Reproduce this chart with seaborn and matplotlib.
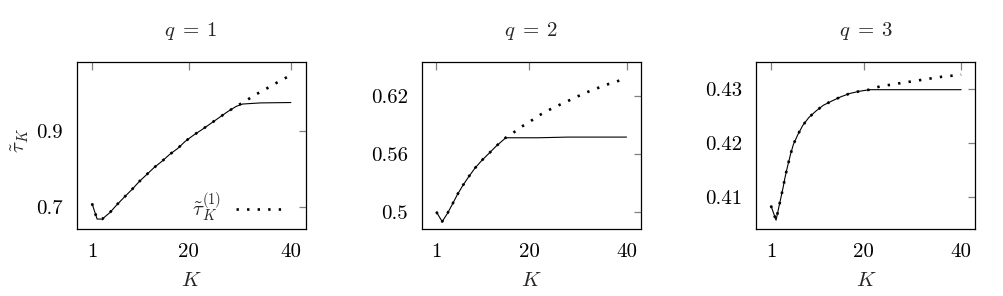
import matplotlib
matplotlib.use("Agg")
import matplotlib.pyplot as plt
import seaborn as sns

# ---------------- data ----------------
x_ticks = [1, 20, 40]
x_tick_labels = ["1", "20", "40"]
titles = [r"$q\;=\;1$", r"$q\;=\;2$", r"$q\;=\;3$"]

# q = 1
k_common_1 = [1, 2, 3, 4.5, 5.9, 7.35, 8.84, 10.2, 11.7, 13.2, 14.7, 16.2,
              17.8, 19.3, 20.9, 22.6, 24.2, 25.9, 27.6, 29.3]
t_common_1 = [0.709, 0.668, 0.668, 0.685, 0.706, 0.726, 0.746, 0.766, 0.785,
              0.804, 0.820, 0.838, 0.854, 0.873, 0.889, 0.904, 0.919, 0.935,
              0.951, 0.965]
k_solid_tail_1 = [30.5, 34, 40]
t_solid_tail_1 = [0.971, 0.974, 0.975]
k_dot_tail_1 = [31, 32.8, 34.6, 36.3, 38.1, 40]
t_dot_tail_1 = [0.978, 0.994, 1.007, 1.020, 1.034, 1.047]
y_ticks_1 = [0.7, 0.9]
y_tick_labels_1 = ["0.7", "0.9"]
y_lim_1 = (0.641, 1.081)

# q = 2
k_common_2 = [1, 2.2, 3.3, 4.3, 5.3, 6.4, 7.6, 8.9, 10.3, 11.8, 13.3, 14.9, 15.2]
t_common_2 = [0.500, 0.490, 0.4986, 0.508, 0.5177, 0.527, 0.536, 0.545, 0.553,
              0.5604, 0.568, 0.575, 0.5765]
k_solid_tail_2 = [22, 28, 40]
t_solid_tail_2 = [0.5765, 0.5772, 0.5772]
k_dot_tail_2 = [16.6, 18.3, 20.2, 22.0, 23.8, 25.8, 27.7, 29.6, 31.5, 33.5,
                35.5, 37.5, 39.4, 40]
t_dot_tail_2 = [0.581, 0.5874, 0.5932, 0.5994, 0.6045, 0.6094, 0.6138, 0.6183,
                0.6228, 0.6266, 0.6307, 0.6338, 0.637, 0.6385]
y_ticks_2 = [0.5, 0.56, 0.62]
y_tick_labels_2 = ["0.5", "0.56", "0.62"]
y_lim_2 = (0.482, 0.6544)

# q = 3
k_common_3 = [1, 2.05, 2.5, 3.05, 3.5, 3.9, 4.35, 5.0, 5.6, 6.5, 7.5, 8.75,
              10.2, 11.75, 13.5, 15.4, 17.2, 19.1, 21.2]
t_common_3 = [0.4083, 0.4056, 0.4075, 0.4098, 0.4117, 0.4136, 0.4154, 0.4178,
              0.4197, 0.4215, 0.4232, 0.4247, 0.4259, 0.4270, 0.4278, 0.4286,
              0.4292, 0.4296, 0.4299]
k_solid_tail_3 = [40]
t_solid_tail_3 = [0.4299]
k_dot_tail_3 = [23.3, 25.4, 27.4, 29.6, 31.7, 33.8, 36, 38.1, 40]
t_dot_tail_3 = [0.4305, 0.4308, 0.4311, 0.4314, 0.4317, 0.4320, 0.4323,
                0.4325, 0.4327]
y_ticks_3 = [0.41, 0.42, 0.43]
y_tick_labels_3 = ["0.41", "0.42", "0.43"]
y_lim_3 = (0.4039, 0.4350)

y_label = r"$\tilde{\tau}_K$"
legend_label = r"$\tilde{\tau}_K^{(1)}$"
x_label = "$K$"

# ---------------- style ----------------
sns.set_style("white")
plt.rcParams["font.family"] = ["cmr10", "DejaVu Serif"]
plt.rcParams["mathtext.fontset"] = "cm"
plt.rcParams["axes.unicode_minus"] = False
FS = 15
plt.rcParams["font.size"] = FS

fig = plt.figure(figsize=(10.04, 2.96), dpi=100)
positions = [
    [76.7 / 1004, 1 - 229.3 / 296, 229 / 1004, 167 / 296],
    [421.7 / 1004, 1 - 229.3 / 296, 219 / 1004, 167 / 296],
    [756.3 / 1004, 1 - 229.3 / 296, 219 / 1004, 167 / 296],
]

panels = [
    (k_common_1, t_common_1, k_solid_tail_1, t_solid_tail_1, k_dot_tail_1, t_dot_tail_1,
     y_ticks_1, y_tick_labels_1, y_lim_1),
    (k_common_2, t_common_2, k_solid_tail_2, t_solid_tail_2, k_dot_tail_2, t_dot_tail_2,
     y_ticks_2, y_tick_labels_2, y_lim_2),
    (k_common_3, t_common_3, k_solid_tail_3, t_solid_tail_3, k_dot_tail_3, t_dot_tail_3,
     y_ticks_3, y_tick_labels_3, y_lim_3),
]

for i, (pos, p) in enumerate(zip(positions, panels)):
    kc, tc, ks, ts, kd, td, yt, ytl, yl = p
    ax = fig.add_axes(pos)
    sns.lineplot(x=kc + ks, y=tc + ts, color="black", linewidth=0.8,
                 ax=ax, label="_nolegend_", legend=False)
    sns.lineplot(x=kc + kd, y=tc + td, color="black", linewidth=1.9,
                 linestyle=(0, (0.9, 3.1)), ax=ax,
                 label=legend_label if i == 0 else "_nolegend_", legend=False)
    ax.set_xlim(-2, 42.9)
    ax.set_ylim(*yl)
    ax.set_xticks(x_ticks)
    ax.set_xticklabels(x_tick_labels)
    ax.set_yticks(yt)
    ax.set_yticklabels(ytl)
    ax.tick_params(direction="in", length=5.4, width=0.9, color="#808080",
                   labelcolor="black", labelsize=FS, top=True, right=True)
    ax.tick_params(axis="x", pad=10)
    ax.tick_params(axis="y", pad=10)
    for s in ax.spines.values():
        s.set_color("black")
        s.set_linewidth(0.9)
    ax.set_title(titles[i], pad=19, fontsize=FS)
    ax.set_xlabel(x_label, fontsize=FS, labelpad=8)
    if i == 0:
        ax.set_ylabel(y_label, fontsize=FS)
        ax.yaxis.set_label_coords(-0.2, 0.53)
        ax.legend(frameon=False, markerfirst=False, loc="center",
                  bbox_to_anchor=(0.714, 0.13), handlelength=2.5,
                  handletextpad=0.7, fontsize=FS)
    else:
        ax.set_ylabel("")
        leg = ax.get_legend()
        if leg is not None:
            leg.remove()

fig.savefig("out.png", dpi=100)
